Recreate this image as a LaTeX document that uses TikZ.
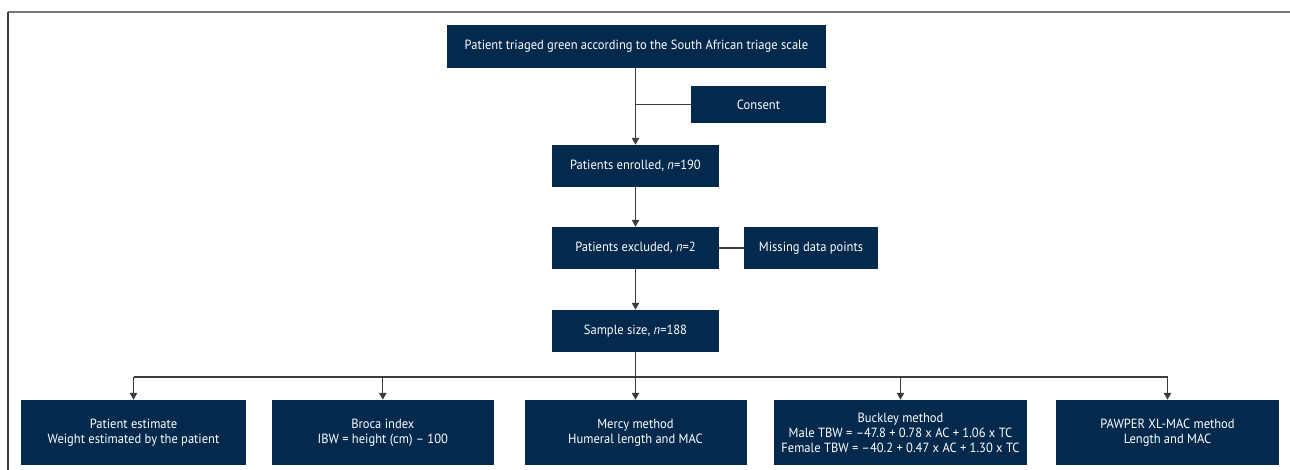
\documentclass[tikz,border=0pt]{standalone}
\usepackage{fontspec}
\setmainfont{PT Sans}[FakeStretch=0.94]
\usetikzlibrary{arrows.meta}
\definecolor{flownavy}{RGB}{3, 41, 76}
\definecolor{flowline}{RGB}{60, 60, 60}
\definecolor{framegray}{RGB}{120, 120, 120}

\begin{document}
\begin{tikzpicture}[x=0.75pt, y=-0.75pt,
  box/.style={fill=flownavy, text=white, align=center, inner sep=0pt,
    font=\fontsize{10}{11.25}\selectfont},
  link/.style={draw=flowline, line width=0.8pt},
  arrow/.style={link, -{Triangle[length=5.2pt, width=5.6pt]}}]
\useasboundingbox (0,0) rectangle (1290,470);
% frame
\draw[framegray, line width=1.5pt] (8,12) -- (1290,12);
\draw[flowline, line width=1.1pt] (8,12) -- (8,470);
% main column
\node[box, minimum width=284.25pt, minimum height=32.25pt] (triage) at (636.5,46.5) {Patient triaged green according to the South African triage scale};
\node[box, minimum width=101.25pt, minimum height=27.75pt] (consent) at (758.5,104.5) {Consent};
\node[box, minimum width=125.25pt, minimum height=31.5pt] (enrolled) at (635.5,166) {Patients enrolled, \textit{n}=190};
\node[box, minimum width=125.25pt, minimum height=31.5pt] (excluded) at (635.5,248) {Patients excluded, \textit{n}=2};
\node[box, minimum width=100.5pt, minimum height=31.5pt] (missing) at (811,248) {Missing data points};
\node[box, minimum width=125.25pt, minimum height=31.5pt] (sample) at (635.5,331) {Sample size, \textit{n}=188};
% methods
\node[box, minimum width=168.75pt, minimum height=48.75pt] (patest) at (133.5,432.5) {Patient estimate\\Weight estimated by the patient};
\node[box, minimum width=166.5pt, minimum height=48.75pt] (broca) at (382.8,432.5) {Broca index\\IBW = height (cm) – 100};
\node[box, minimum width=166.5pt, minimum height=48.75pt] (mercy) at (635.5,432.5) {Mercy method\\Humeral length and MAC};
\node[box, minimum width=189.75pt, minimum height=48.75pt] (buckley) at (900.5,432.5) {Buckley method\\Male TBW = –47.8 + 0.78 x AC + 1.06 x TC\\Female TBW = –40.2 + 0.47 x AC + 1.30 x TC};
\node[box, minimum width=167.25pt, minimum height=48.75pt] (pawper) at (1167.5,432.5) {PAWPER XL-MAC method\\Length and MAC};
\coordinate (split) at (635.5,377);
% connectors
\draw[arrow] (triage.south -| enrolled.north) -- (enrolled.north);
\draw[link] (consent.west) -- (consent.west -| enrolled.north);
\draw[arrow] (enrolled) -- (excluded);
\draw[link] (excluded) -- (missing);
\draw[arrow] (excluded) -- (sample);
\draw[link] (sample.south) -- (split);
\draw[link] (patest.north |- split) -- (pawper.north |- split);
\foreach \m in {patest, broca, mercy, buckley, pawper}
  \draw[arrow] (\m.north |- split) -- (\m.north);
\end{tikzpicture}
\end{document}
